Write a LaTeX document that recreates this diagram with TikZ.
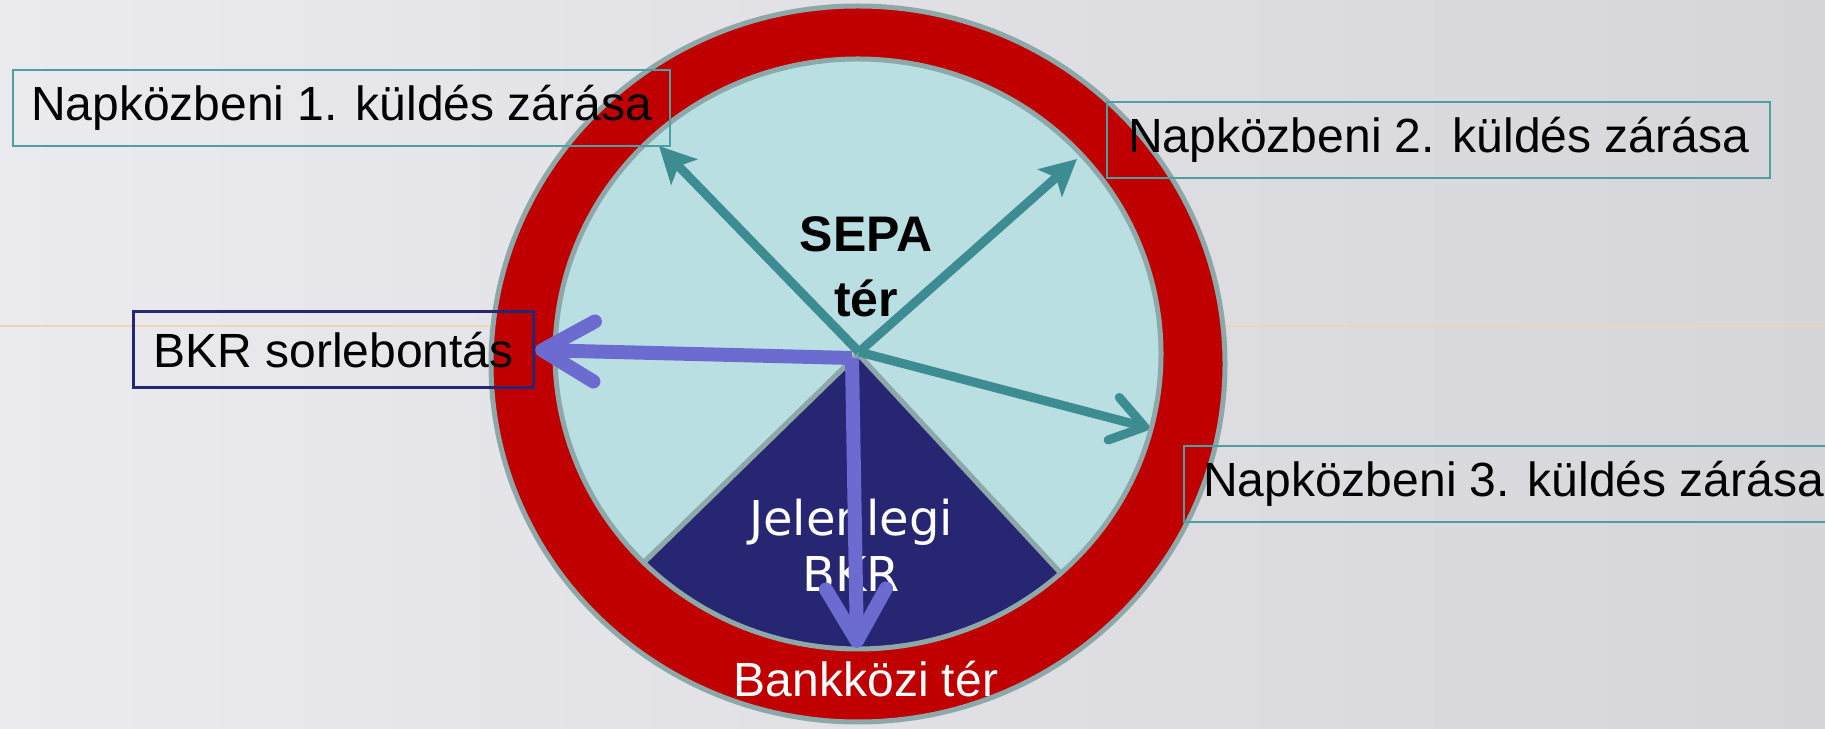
\documentclass[tikz,border=0pt]{standalone}
\usepackage{fontspec}
\setmainfont{Liberation Sans}
\newfontfamily\dejavu{DejaVu Sans}
\usetikzlibrary{arrows.meta}

\definecolor{ringred}{HTML}{C00000}
\definecolor{ringgray}{HTML}{8DA8A9}
\definecolor{sepablue}{HTML}{B9DFE2}
\definecolor{bkrnavy}{HTML}{272672}
\definecolor{closeteal}{HTML}{3D8C91}
\definecolor{splitpurple}{HTML}{6C6BD0}
\definecolor{bgleft}{HTML}{EBEAEE}
\definecolor{bgright}{HTML}{D6D6DA}
\definecolor{boxteal}{HTML}{4F9EA2}
\definecolor{faintline}{HTML}{EAD8B4}

\begin{document}
\begin{tikzpicture}[x=0.5pt, y=0.5pt,
  closebox/.style={draw=boxteal, line width=1.2pt, minimum height=38pt, anchor=west,
    inner xsep=9pt, font=\fontsize{24}{28}\selectfont},
  closearrow/.style={draw=closeteal, line width=4.5pt, -{Stealth[length=18pt, width=18pt, inset=4pt]}},
  splitarrow/.style={draw=splitpurple, line width=7pt, -{Straight Barb[length=26pt, width=30pt, round]}}]

\def\cx{858}; % pie centre
\def\cy{374};
\def\rx{303}; % pie radii
\def\ry{295};

\useasboundingbox (0,0) rectangle (1825,728);
\shade[left color=bgleft, right color=bgright] (0,0) rectangle (1825,728);
\draw[faintline, line width=0.6pt] (0,402) -- (1825,402);

% bankkozi ring
\filldraw[fill=ringred, draw=ringgray, line width=2.5pt] (858,364) ellipse [x radius=367, y radius=358];

% pie
\coordinate (ctr) at (\cx,\cy);
\filldraw[fill=sepablue, draw=ringgray, line width=2.5pt] (ctr) -- +({\rx*cos(-48)},{\ry*sin(-48)})
  arc[start angle=-48, end angle=225, x radius=\rx, y radius=\ry] -- cycle;
\filldraw[fill=bkrnavy, draw=ringgray, line width=2.5pt] (ctr) -- +({\rx*cos(-135)},{\ry*sin(-135)})
  arc[start angle=-135, end angle=-48, x radius=\rx, y radius=\ry] -- cycle;

% closing arrows
\coordinate (src) at (859,376);
\coordinate (tip1) at (659,582);
\coordinate (tip2) at (1077,569);
\coordinate (tip3) at (1149,300);
\draw[closearrow] (src) -- (tip1);
\draw[closearrow] (src) -- (tip2);
\draw[closearrow, -{Straight Barb[length=16pt, width=22pt, round]}] (src) -- (tip3);

\node[anchor=base, font=\bfseries\fontsize{25}{30}\selectfont] (sepa) at (866,476) {SEPA};
\node[anchor=base, font=\bfseries\fontsize{25}{30}\selectfont] (ter) at (866,411) {tér};

\node[anchor=base, text=white, font=\dejavu\fontsize{24}{28}\selectfont] (jelen) at (851,192) {Jelenlegi};
\node[anchor=base, text=white, font=\dejavu\fontsize{24}{28}\selectfont] (bkrlab) at (851,136) {BKR};
\node[anchor=base, text=white, font=\fontsize{24}{28}\selectfont] (bankkozi) at (866,32) {Bankközi tér};

% boxes
\node[closebox] (zar1) at (12,620) {Napközbeni 1. küldés zárása};
\node[closebox, inner xsep=10.5pt] (zar2) at (1106,588) {Napközbeni 2. küldés zárása};
\node[closebox, inner xsep=9.5pt] (zar3) at (1183,244) {Napközbeni 3. küldés zárása};
\node[closebox, draw=bkrnavy, line width=1.5pt, inner xsep=10pt] (bkr) at (132,378) {BKR sorlebontás};

% sorlebontas arrows
\coordinate (split) at (852,370);
\coordinate (bkrend) at (857,80);
\draw[splitarrow] (split) -- (bkr.east);
\draw[splitarrow] (split) -- (bkrend);

\end{tikzpicture}
\end{document}
